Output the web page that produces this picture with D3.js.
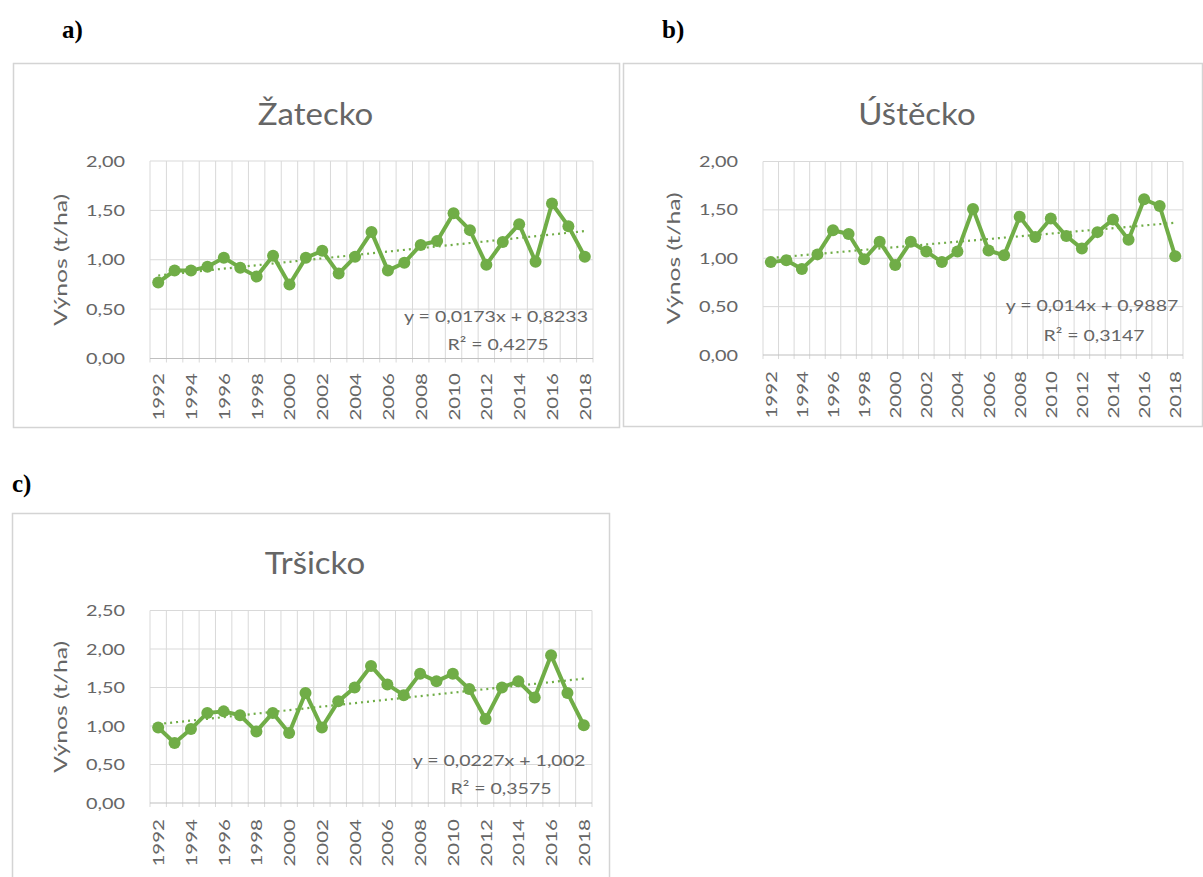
<!DOCTYPE html>
<html>
<head>
<meta charset="utf-8">
<script src="https://cdn.jsdelivr.net/npm/d3@7"></script>
<style>
  body { margin: 0; background: #fff; }
  svg { display: block; }
</style>
</head>
<body>
<svg id="fig" width="1203" height="877"></svg>
<script>
// Yields (t/ha) per year for three regions
const years = [1992, 1993, 1994, 1995, 1996, 1997, 1998, 1999, 2000, 2001, 2002, 2003, 2004, 2005,
               2006, 2007, 2008, 2009, 2010, 2011, 2012, 2013, 2014, 2015, 2016, 2017, 2018];
const yearLabels = [1992, 1994, 1996, 1998, 2000, 2002, 2004, 2006, 2008, 2010, 2012, 2014, 2016, 2018];

const zatecko = [0.77, 0.89, 0.89, 0.93, 1.02, 0.92, 0.83, 1.04, 0.75, 1.02, 1.09, 0.86, 1.03, 1.28,
                 0.89, 0.97, 1.15, 1.19, 1.47, 1.30, 0.95, 1.18, 1.36, 0.98, 1.57, 1.34, 1.03];
const ustecko = [0.96, 0.98, 0.89, 1.04, 1.29, 1.25, 0.99, 1.17, 0.93, 1.17, 1.07, 0.96, 1.07, 1.51,
                 1.08, 1.03, 1.43, 1.22, 1.41, 1.23, 1.10, 1.27, 1.40, 1.19, 1.61, 1.54, 1.02];
const trsicko = [0.98, 0.78, 0.96, 1.17, 1.19, 1.14, 0.93, 1.17, 0.91, 1.43, 0.98, 1.32, 1.50, 1.78,
                 1.54, 1.40, 1.68, 1.58, 1.68, 1.48, 1.09, 1.50, 1.58, 1.37, 1.92, 1.43, 1.01];

const ticksAB = [0, 0.5, 1, 1.5, 2];
const ticksC = [0, 0.5, 1, 1.5, 2, 2.5];

const titles = ["Žatecko", "Úštěcko", "Tršicko"];
const panelLetters = ["a)", "b)", "c)"];
const yAxisTitle = "Výnos (t/ha)";

// Linear trend y = slope * x + intercept, x = 1 for the first year
const trendSlopes = [0.0173, 0.014, 0.0227];
const trendIntercepts = [0.8233, 0.9887, 1.002];
const trendEquations = ["y = 0,0173x + 0,8233", "y = 0,014x + 0,9887", "y = 0,0227x + 1,002"];
const trendR2 = ["R² = 0,4275", "R² = 0,3147", "R² = 0,3575"];

const GREEN = "#70AD47";
const TEXT = "#666666";
const GRID = "#d9d9d9";
const FONT = "Lato, 'Open Sans', sans-serif";
const WEIGHT = 400;

const svg = d3.select("#fig");

// widen glyphs along the text direction
function stretch(sel, k) {
  sel.each(function () {
    const L = this.getComputedTextLength();
    this.setAttribute("textLength", L * k);
    this.setAttribute("lengthAdjust", "spacingAndGlyphs");
  });
}

const fmt = v => d3.format(".2f")(v).replace(".", ",");

const panels = [
  { values: zatecko, ticks: ticksAB,
    frame: [13, 63, 620, 428], plot: { l: 150, r: 593, t: 161, b: 358.5 },
    letter: [62, 38], titleY: 125, eqX: 496, eqY: 322, r2Y: 350, yearY: 373 },
  { values: ustecko, ticks: ticksAB,
    frame: [623, 63, 1203, 427], plot: { l: 763, r: 1183, t: 161.5, b: 355 },
    letter: [662, 38], titleY: 125, eqX: 1092, eqY: 311, r2Y: 341, yearY: 371 },
  { values: trsicko, ticks: ticksC,
    frame: [12, 513, 610, 880], plot: { l: 150, r: 592, t: 610.5, b: 803 },
    letter: [12, 492], titleY: 574, eqX: 499, eqY: 766, r2Y: 794, yearY: 819 }
];

panels.forEach((p, i) => {
  const g = svg.append("g");
  const [fx0, fy0, fx1, fy1] = p.frame;
  const { l, r, t, b } = p.plot;

  // panel letter
  svg.append("text")
    .attr("x", p.letter[0]).attr("y", p.letter[1])
    .attr("font-family", "'Liberation Serif', 'Times New Roman', serif")
    .attr("font-weight", "bold").attr("font-size", 25).attr("fill", "#000")
    .text(panelLetters[i]);

  // chart frame
  g.append("rect")
    .attr("x", fx0 + 0.5).attr("y", fy0 + 0.5)
    .attr("width", fx1 - fx0 - 1).attr("height", fy1 - fy0 - 1)
    .attr("fill", "#fff").attr("stroke", "#d4d4d4").attr("stroke-width", 1.5);

  const x = d3.scaleBand().domain(years).range([l, r]).padding(0);
  const y = d3.scaleLinear().domain([0, d3.max(p.ticks)]).range([b, t]);
  const cx = d => x(d) + x.bandwidth() / 2;

  // horizontal gridlines
  g.append("g").selectAll("line").data(p.ticks.filter(v => v > 0)).join("line")
    .attr("x1", l).attr("x2", r)
    .attr("y1", d => y(d)).attr("y2", d => y(d))
    .attr("stroke", GRID).attr("stroke-width", 1);

  // vertical gridlines at category boundaries
  const bounds = years.map(d => x(d)).concat([r]);
  g.append("g").selectAll("line").data(bounds).join("line")
    .attr("x1", d => d).attr("x2", d => d)
    .attr("y1", t).attr("y2", b + 4)
    .attr("stroke", GRID).attr("stroke-width", 1);

  // category axis line
  g.append("line").attr("x1", l).attr("x2", r).attr("y1", b).attr("y2", b)
    .attr("stroke", "#bfbfbf").attr("stroke-width", 1.2);

  // y tick labels
  const yt = g.append("g").selectAll("text").data(p.ticks).join("text")
    .attr("x", l - 25).attr("y", d => y(d))
    .attr("dy", "0.35em").attr("text-anchor", "end")
    .attr("font-family", FONT).attr("font-weight", WEIGHT)
    .attr("font-size", 16).attr("fill", TEXT)
    .text(fmt);
  stretch(yt, 1.24);

  // year labels, rotated
  const xt = g.append("g").selectAll("text").data(yearLabels).join("text")
    .attr("transform", d => `translate(${cx(d) + 6},${p.yearY}) rotate(-90)`)
    .attr("text-anchor", "end")
    .attr("font-family", FONT).attr("font-weight", WEIGHT)
    .attr("font-size", 16).attr("fill", TEXT)
    .text(d => d);
  stretch(xt, 1.28);

  // y axis title
  const yat = g.append("text")
    .attr("transform", `translate(${l - 83},${(t + b) / 2}) rotate(-90)`)
    .attr("text-anchor", "middle")
    .attr("font-family", FONT).attr("font-weight", WEIGHT)
    .attr("font-size", 17).attr("fill", TEXT)
    .text(yAxisTitle);
  stretch(yat, 1.45);

  // chart title
  const tt = g.append("text")
    .attr("x", (l + r) / 2 - 56).attr("y", p.titleY)
    .attr("text-anchor", "middle")
    .attr("font-family", FONT).attr("font-weight", WEIGHT)
    .attr("font-size", 30).attr("fill", TEXT)
    .text(titles[i]);
  stretch(tt, 1.1);

  // trend line (dotted)
  const first = years[0], last = years[years.length - 1];
  const trend = [first, last].map(d => ({ yr: d, v: trendSlopes[i] * (years.indexOf(d) + 1) + trendIntercepts[i] }));
  g.append("path")
    .attr("d", d3.line().x(d => cx(d.yr)).y(d => y(d.v))(trend))
    .attr("fill", "none").attr("stroke", GREEN).attr("stroke-width", 2.2)
    .attr("stroke-dasharray", "2 4");

  // data line and markers
  const pts = years.map((d, k) => ({ yr: d, v: p.values[k] }));
  g.append("path")
    .attr("d", d3.line().x(d => cx(d.yr)).y(d => y(d.v))(pts))
    .attr("fill", "none").attr("stroke", GREEN).attr("stroke-width", 4)
    .attr("stroke-linejoin", "round");
  g.append("g").selectAll("circle").data(pts).join("circle")
    .attr("cx", d => cx(d.yr)).attr("cy", d => y(d.v)).attr("r", 6)
    .attr("fill", GREEN);

  // trend equation
  const eq = g.append("text")
    .attr("x", p.eqX).attr("y", p.eqY).attr("text-anchor", "middle")
    .attr("font-family", FONT).attr("font-weight", WEIGHT)
    .attr("font-size", 16).attr("fill", TEXT)
    .text(trendEquations[i]);
  stretch(eq, 1.22);
  const r2 = g.append("text")
    .attr("x", p.eqX + 2).attr("y", p.r2Y).attr("text-anchor", "middle")
    .attr("font-family", FONT).attr("font-weight", WEIGHT)
    .attr("font-size", 16).attr("fill", TEXT)
    .text(trendR2[i]);
  stretch(r2, 1.22);
});
</script>
</body>
</html>
